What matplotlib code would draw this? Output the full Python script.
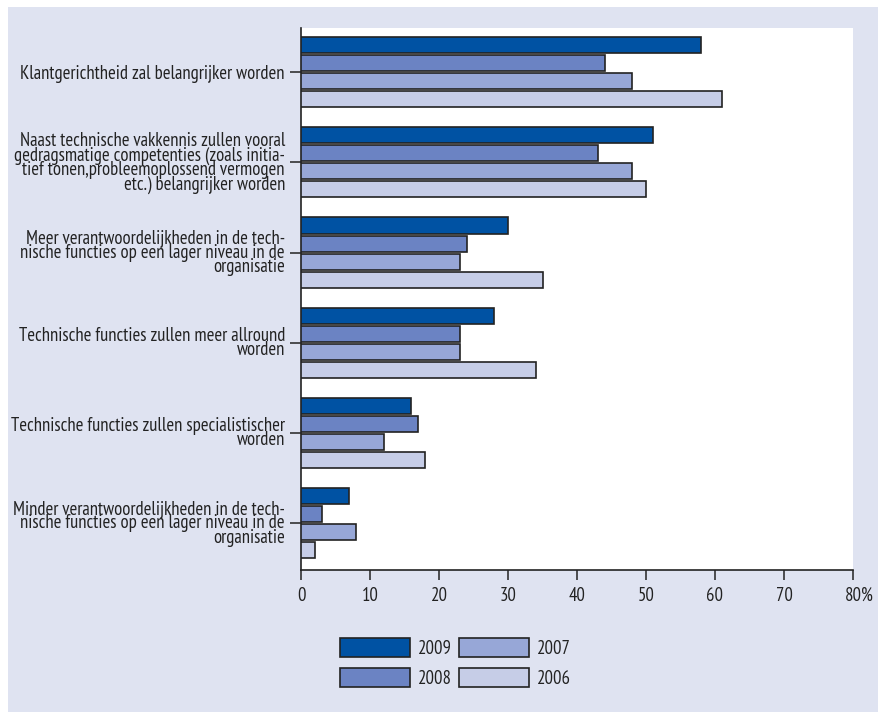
import matplotlib
matplotlib.use("Agg")
import matplotlib.pyplot as plt
from matplotlib.patches import Rectangle
from matplotlib.font_manager import FontProperties
from matplotlib import font_manager
import numpy as np

categories = [
    "Klantgerichtheid zal belangrijker worden",
    "Naast technische vakkennis zullen vooral\ngedragsmatige competenties (zoals initia-\ntief tonen,probleemoplossend vermogen\netc.) belangrijker worden",
    "Meer verantwoordelijkheden in de tech-\nnische functies op een lager niveau in de\norganisatie",
    "Technische functies zullen meer allround\nworden",
    "Technische functies zullen specialistischer\nworden",
    "Minder verantwoordelijkheden in de tech-\nnische functies op een lager niveau in de\norganisatie",
]
years = ["2009", "2008", "2007", "2006"]
v2009 = [58, 51, 30, 28, 16, 7]
v2008 = [44, 43, 24, 23, 17, 3]
v2007 = [48, 48, 23, 23, 12, 8]
v2006 = [61, 50, 35, 34, 18, 2]
series = [v2009, v2008, v2007, v2006]
colors = ["#0052a3", "#6b83c3", "#97a7d7", "#c6cde7"]
xticks = [0, 10, 20, 30, 40, 50, 60, 70, 80]

# pick a condensed sans face
available = {f.name for f in font_manager.fontManager.ttflist}
preferred = ["Myriad Pro Condensed", "PT Sans Narrow", "Fira Sans Condensed",
             "Roboto Condensed", "Open Sans Condensed", "Liberation Sans Narrow",
             "Archivo Narrow", "Encode Sans Condensed", "Asap Condensed",
             "IBM Plex Sans Condensed", "Barlow Semi Condensed", "DejaVu Sans"]
family = next(f for f in preferred if f in available)
plt.rcParams["font.family"] = [family, "DejaVu Sans"]
if family == "DejaVu Sans":
    plt.rcParams["font.stretch"] = "condensed"

W, H = 879, 712
fig = plt.figure(figsize=(W / 100, H / 100), dpi=100, facecolor="white")
renderer = fig.canvas.get_renderer()

# size the type so the one-line label spans ~264 px
probe = fig.text(0, 0, categories[0], fontsize=10)
fs = 10 * 264 / probe.get_window_extent(renderer).width
probe.remove()
_, lp_h, lp_d = renderer.get_text_width_height_descent("lp", FontProperties(size=fs), ismath=False)
# baseline-to-baseline distance in pixels
lsp = (14.5 - lp_d) / (lp_h - lp_d)
plt.rcParams["font.size"] = fs
pt = 72 / 100  # points per pixel

fig.patches.append(Rectangle((8 / W, 0), 1 - 8 / W, 1 - 7 / H, transform=fig.transFigure,
                             facecolor="#dfe3f1", edgecolor="none", zorder=-10))

ax = fig.add_axes([301 / W, 1 - 570 / H, (853 - 301) / W, (570 - 28) / H])
ax.set_facecolor("white")

pitch = 0.2
height = 0.178
pos = np.arange(len(categories))
for i, (vals, col, yr) in enumerate(zip(series, colors, years)):
    offs = (i - 1.5) * pitch
    ax.barh(pos + offs, vals, height=height, color=col, edgecolor="#222222",
            linewidth=1.2, label=yr, zorder=3)

ax.set_xlim(0, 80)
ax.set_ylim(5.52, -0.49)
ax.set_yticks(pos)
ax.set_yticklabels(categories, linespacing=lsp, ha="right")
ax.set_xticks(xticks)
ax.set_xticklabels([str(t) for t in xticks])
ax.tick_params(axis="y", length=11 * pt, width=1.1, pad=5 * pt, color="#222222", labelcolor="#222222")
ax.tick_params(axis="x", length=10 * pt, width=1.1, pad=7 * pt, color="#222222", labelcolor="#222222")
for s in ["top", "right"]:
    ax.spines[s].set_visible(False)
for s in ["left", "bottom"]:
    ax.spines[s].set_linewidth(1.2)
    ax.spines[s].set_color("#222222")

ax.annotate("%", xy=(80, 0), xycoords=("data", "axes fraction"), xytext=(8.5 * pt, -17 * pt),
            textcoords="offset points", ha="left", va="top", color="#222222", fontsize=fs)

handles, labels = ax.get_legend_handles_labels()
leg = fig.legend(handles, labels, ncol=2, loc="upper left",
                 bbox_to_anchor=(327 / W, 1 - 625 / H), frameon=False,
                 handlelength=70 * pt / fs, handleheight=22 * pt / fs,
                 handletextpad=8 * pt / fs, columnspacing=7 * pt / fs,
                 labelspacing=10 * pt / fs, fontsize=fs, borderpad=0.2)
for t in leg.get_texts():
    t.set_color("#222222")

fig.savefig("out.png", dpi=100, facecolor=fig.get_facecolor())
